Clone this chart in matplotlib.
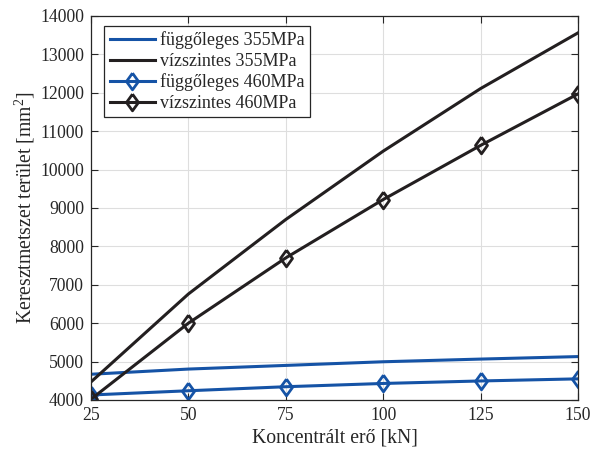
import matplotlib
matplotlib.use("Agg")
from matplotlib import pyplot as plt

plt.rcParams['font.family'] = ['Liberation Serif', 'DejaVu Serif']
plt.rcParams['mathtext.fontset'] = 'custom'
plt.rcParams['mathtext.rm'] = 'Liberation Serif'

force = [25, 50, 75, 100, 125, 150]
fugg_355 = [4670, 4805, 4900, 4995, 5065, 5130]
vizsz_355 = [4470, 6760, 8700, 10480, 12110, 13560]
fugg_460 = [4130, 4240, 4345, 4430, 4495, 4550]
vizsz_460 = [4020, 6000, 7700, 9220, 10630, 11970]

blue = '#1553a6'
black = '#231f20'
axc = '#262626'

# diamond a bit wider than matplotlib's thin 'd'
diamond = [(0, 1), (0.72, 0), (0, -1), (-0.72, 0), (0, 1)]

fig = plt.figure(figsize=(6.01, 4.54), dpi=100)
ax = fig.add_axes([0.1514, 0.119, 0.8103, 0.8458])

ax.plot(force, fugg_355, color=blue, lw=2.2, label='függőleges 355MPa')
ax.plot(force, vizsz_355, color=black, lw=2.2, label='vízszintes 355MPa')
ax.plot(force, fugg_460, color=blue, lw=2.2, marker=diamond, ms=12, mfc='none',
        mew=2, label='függőleges 460MPa')
ax.plot(force, vizsz_460, color=black, lw=2.2, marker=diamond, ms=12, mfc='none',
        mew=2, label='vízszintes 460MPa')

ax.set_xlim(25, 150)
ax.set_ylim(4000, 14000)
ax.set_xticks(force)
ax.set_yticks(range(4000, 14001, 1000))
ax.grid(True, color='#dedede', lw=0.8)
ax.set_axisbelow(True)
ax.tick_params(direction='in', top=True, right=True, length=5, colors=axc,
               labelsize=12.7, pad=5)
for s in ax.spines.values():
    s.set_color(axc)
    s.set_linewidth(0.9)

ax.set_xlabel('Koncentrált erő [kN]', fontsize=14.2, color=axc, labelpad=3)
ax.set_ylabel('Keresztmetszet terület [mm$^2$]', fontsize=14.2, color=axc,
              labelpad=2)

leg = ax.legend(loc='upper left', bbox_to_anchor=(0.027, 0.974), fontsize=13,
                fancybox=False, framealpha=1, edgecolor=axc, handlelength=2.5,
                borderpad=0.3, labelspacing=0.2, handletextpad=0.3,
                borderaxespad=0)
leg.get_frame().set_linewidth(0.9)
for t in leg.get_texts():
    t.set_color(axc)

fig.savefig('out.png', dpi=100)
